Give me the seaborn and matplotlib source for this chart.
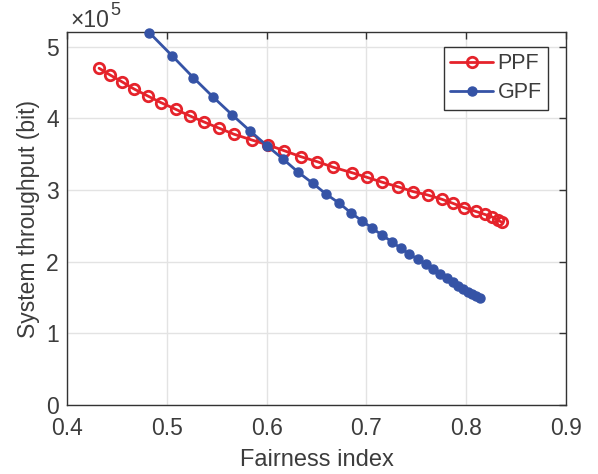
import numpy as np
import pandas as pd
import matplotlib
matplotlib.use("Agg")
import matplotlib.pyplot as plt
import seaborn as sns

# Fairness index / throughput (in units of 1e5 bit) for each scheduler
ppf_fairness = [0.4321, 0.4431, 0.4548, 0.4671, 0.4809, 0.4942, 0.5089, 0.5232,
                0.5373, 0.5526, 0.5673, 0.5851, 0.6017, 0.6174, 0.6342, 0.6508,
                0.6668, 0.6853, 0.7003, 0.7159, 0.7314, 0.7470, 0.7614, 0.7755,
                0.7865, 0.7981, 0.8098, 0.8188, 0.8259, 0.8314, 0.8359]
ppf_throughput = [4.699, 4.605, 4.512, 4.410, 4.312, 4.219, 4.126, 4.033,
                  3.949, 3.861, 3.778, 3.698, 3.628, 3.549, 3.465, 3.395,
                  3.317, 3.242, 3.178, 3.108, 3.046, 2.977, 2.930, 2.871,
                  2.815, 2.753, 2.700, 2.658, 2.624, 2.584, 2.547]

gpf_fairness = [0.4825, 0.5055, 0.5266, 0.5466, 0.5656, 0.5834, 0.6007, 0.6167,
                0.6318, 0.6462, 0.6595, 0.6728, 0.6843, 0.6953, 0.7059, 0.7159,
                0.7254, 0.7344, 0.7430, 0.7514, 0.7594, 0.7670, 0.7737, 0.7805,
                0.7865, 0.7921, 0.7971, 0.8015, 0.8055, 0.8095, 0.8138]
gpf_throughput = [5.195, 4.870, 4.567, 4.294, 4.047, 3.824, 3.614, 3.429,
                  3.247, 3.094, 2.944, 2.815, 2.684, 2.572, 2.466, 2.368,
                  2.279, 2.187, 2.107, 2.033, 1.963, 1.894, 1.828, 1.768,
                  1.716, 1.665, 1.619, 1.581, 1.549, 1.521, 1.497]

scale = 1e5
x_ticks = [0.4, 0.5, 0.6, 0.7, 0.8, 0.9]
y_ticks = [0, 1, 2, 3, 4, 5]

ppf = pd.DataFrame({"fairness": ppf_fairness,
                    "throughput": np.array(ppf_throughput) * scale})
gpf = pd.DataFrame({"fairness": gpf_fairness,
                    "throughput": np.array(gpf_throughput) * scale})

sns.set_theme(style="white")
plt.rcParams["font.family"] = ["Liberation Sans", "DejaVu Sans"]
ink = "#3c3c3c"
frame = "#333333"

fig = plt.figure(figsize=(5.98, 4.74), dpi=100)
ax = fig.add_axes([67 / 598, 69 / 474, 499 / 598, 372.7 / 474])

red = "#E5232B"
blue = "#3553A6"

sns.lineplot(data=ppf, x="fairness", y="throughput", ax=ax, sort=False,
             estimator=None, color=red, linewidth=2.0, marker="o",
             markersize=7.5, markerfacecolor="none", markeredgecolor=red,
             markeredgewidth=2.0, label="PPF", zorder=3)
sns.lineplot(data=gpf, x="fairness", y="throughput", ax=ax, sort=False,
             estimator=None, color=blue, linewidth=2.0, marker="o",
             markersize=6.5, markerfacecolor=blue, markeredgecolor=blue,
             markeredgewidth=1.0, label="GPF", zorder=4, clip_on=False)

ax.set_xlim(0.4, 0.9)
ax.set_ylim(0, 5.2 * scale)
ax.set_xticks(x_ticks)
ax.set_xticklabels([f"{t:.1f}" for t in x_ticks])
ax.set_yticks([t * scale for t in y_ticks])
ax.set_yticklabels([str(t) for t in y_ticks])

ax.grid(True, color="#e3e3e3", linewidth=1.0)
ax.set_axisbelow(True)
for sp in ax.spines.values():
    sp.set_color(frame)
    sp.set_linewidth(1.0)
    sp.set_visible(True)
ax.tick_params(direction="in", length=5, width=1.0, color=frame,
               labelcolor=ink, labelsize=16.5, top=True, right=True)
ax.tick_params(axis="x", pad=8.5)
ax.tick_params(axis="y", pad=6)

ax.set_xlabel("Fairness index", fontsize=17, color=ink, labelpad=6.5)
ax.set_ylabel("System throughput (bit)", fontsize=16.5, color=ink, labelpad=4)

# axis multiplier drawn as a base and a raised exponent
fig.text(70 / 598, 1 - 26.7 / 474, "\u00d710", fontsize=16.5, color=ink,
         ha="left", va="baseline")
fig.text(110 / 598, 1 - 15 / 474, "5", fontsize=13, color=ink,
         ha="left", va="baseline")

leg = ax.legend(loc="upper right", bbox_to_anchor=(0.964, 0.9605),
                borderaxespad=0, fontsize=15.5, frameon=True, fancybox=False,
                framealpha=1, edgecolor=frame, handlelength=2.0,
                handletextpad=0.2, borderpad=0.3, labelspacing=0.36)
leg.get_frame().set_linewidth(1.0)
for t in leg.get_texts():
    t.set_color(ink)

fig.savefig("out.png", dpi=100)
